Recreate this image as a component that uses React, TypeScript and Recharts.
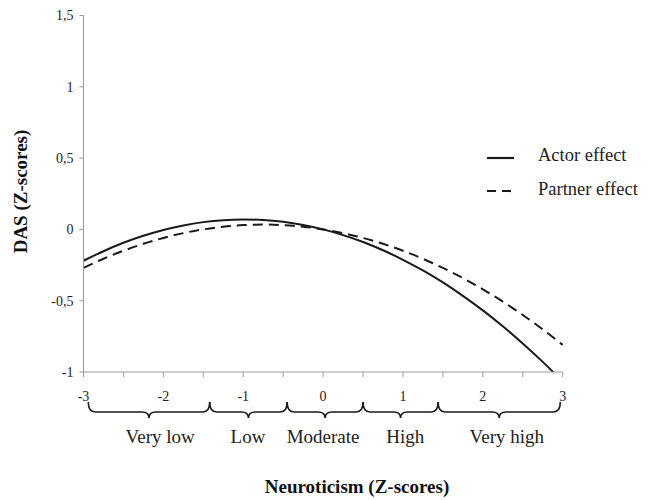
import React from 'react';
import { LineChart, Line, XAxis, YAxis, ReferenceArea, ReferenceDot, Legend, Customized } from 'recharts';

const xValues = [-3, -2.75, -2.5, -2.25, -2, -1.75, -1.5, -1.25, -1, -0.75, -0.5, -0.25, 0, 0.25, 0.5, 0.75, 1, 1.25, 1.5, 1.75, 2, 2.25, 2.5, 2.75, 3];
const actorEffect = [-0.22, -0.153, -0.094, -0.045, -0.004, 0.028, 0.051, 0.065, 0.07, 0.066, 0.053, 0.031, 0, -0.04, -0.088, -0.146, -0.213, -0.288, -0.372, -0.466, -0.568, -0.679, -0.8, -0.929, -1.066];
const partnerEffect = [-0.27, -0.206, -0.15, -0.101, -0.06, -0.026, 0, 0.019, 0.03, 0.034, 0.03, 0.019, 0, -0.026, -0.06, -0.101, -0.15, -0.206, -0.27, -0.341, -0.42, -0.506, -0.6, -0.701, -0.81];
const seriesNames = ['Actor effect', 'Partner effect'];
const xTicks = [-3, -2.5, -2, -1.5, -1, -0.5, 0, 0.5, 1, 1.5, 2, 2.5, 3];
const yTicks = [-1, -0.5, 0, 0.5, 1, 1.5];
const braceBounds = [-2.94, -1.42, -0.45, 0.5, 1.44, 2.97];
const categoryLabels = ['Very low', 'Low', 'Moderate', 'High', 'Very high'];
const categoryCenters = [-2.04, -0.94, 0, 1.03, 2.3];
const xTitle = 'Neuroticism (Z-scores)';
const yTitle = 'DAS (Z-scores)';

const data = xValues.map((x, i) => ({ x, actor: actorEffect[i], partner: partnerEffect[i] }));

const FONT = '"Liberation Serif", "Times New Roman", serif';
const INK = '#1a1a1a';
const AXIS = '#999';

const XTick = (props: any) => {
  const { x, y, payload } = props;
  if (!Number.isInteger(payload.value)) return <g />;
  return (
    <text x={x} y={y} dy={22} textAnchor="middle" fontFamily={FONT} fontSize={14} fill="#222">
      {payload.value}
    </text>
  );
};

const Brace = (props: any) => {
  const { x, y, width, height } = props;
  const base = y + height;
  const t = base + 30;
  const l = base + 40;
  const tip = base + 46;
  const x0 = x;
  const x1 = x + width;
  const m = (x0 + x1) / 2;
  const r = 7;
  const d = `M${x0},${t} Q${x0},${l} ${x0 + r},${l} L${m - r},${l} Q${m},${l} ${m},${tip} Q${m},${l} ${m + r},${l} L${x1 - r},${l} Q${x1},${l} ${x1},${t}`;
  return <path d={d} fill="none" stroke={INK} strokeWidth={1.6} />;
};

const LegendContent = () => (
  <div style={{ fontFamily: FONT, fontSize: 18.5, color: '#222' }}>
    {seriesNames.map((name, i) => (
      <div key={name} style={{ display: 'flex', alignItems: 'center', height: 33.4 }}>
        <svg width={27} height={6} style={{ display: 'block' }}>
          <line x1={0} y1={3} x2={27} y2={3} stroke={INK} strokeWidth={2.2} strokeDasharray={i === 1 ? '9 6' : undefined} />
        </svg>
        <span style={{ marginLeft: 24, position: 'relative', top: -2, whiteSpace: 'nowrap' }}>{name}</span>
      </div>
    ))}
  </div>
);

const Titles = () => (
  <g>
    <text x={357} y={493} textAnchor="middle" fontFamily={FONT} fontSize={19} fontWeight="bold" fill="#111">
      {xTitle}
    </text>
    <text x={26.5} y={191.5} textAnchor="middle" fontFamily={FONT} fontSize={19} fontWeight="bold" fill="#111" transform="rotate(-90, 26.5, 191.5)">
      {yTitle}
    </text>
  </g>
);

export default function App() {
  return (
    <div style={{ position: 'absolute', left: 0, top: 0, background: '#fff' }}>
      <LineChart width={653} height={500} data={data} margin={{ top: 15.5, left: 23.5, right: 90.3, bottom: 98 }}>
        <XAxis
          dataKey="x"
          type="number"
          domain={[-3, 3]}
          ticks={xTicks}
          interval={0}
          tickSize={5}
          height={30}
          axisLine={{ stroke: AXIS }}
          tickLine={{ stroke: AXIS }}
          tick={<XTick />}
        />
        <YAxis
          type="number"
          domain={[-1, 1.5]}
          ticks={yTicks}
          allowDataOverflow
          width={60}
          tickSize={4}
          tickMargin={6}
          axisLine={{ stroke: AXIS }}
          tickLine={{ stroke: AXIS }}
          tick={{ fontSize: 14, fill: '#222', fontFamily: FONT }}
          tickFormatter={(v: number) => String(v).replace('.', ',')}
        />
        {braceBounds.slice(0, -1).map((b, i) => (
          <ReferenceArea key={'br' + i} x1={b} x2={braceBounds[i + 1]} shape={(p: any) => <Brace {...p} />} />
        ))}
        {categoryLabels.map((lab, i) => (
          <ReferenceDot
            key={'cl' + i}
            x={categoryCenters[i]}
            y={-1}
            shape={(p: any) => (
              <text x={p.cx} y={p.cy + 71} textAnchor="middle" fontFamily={FONT} fontSize={19} fill="#222">
                {lab}
              </text>
            )}
          />
        ))}
        <Line dataKey="actor" name={seriesNames[0]} type="monotone" dot={false} stroke={INK} strokeWidth={2} isAnimationActive={false} />
        <Line dataKey="partner" name={seriesNames[1]} type="monotone" dot={false} stroke={INK} strokeWidth={2} strokeDasharray="10 6" isAnimationActive={false} />
        <Legend layout="vertical" align="center" verticalAlign="middle" wrapperStyle={{ left: 487, top: 141, width: 170 }} content={<LegendContent />} />
        <Customized component={<Titles />} />
      </LineChart>
    </div>
  );
}
